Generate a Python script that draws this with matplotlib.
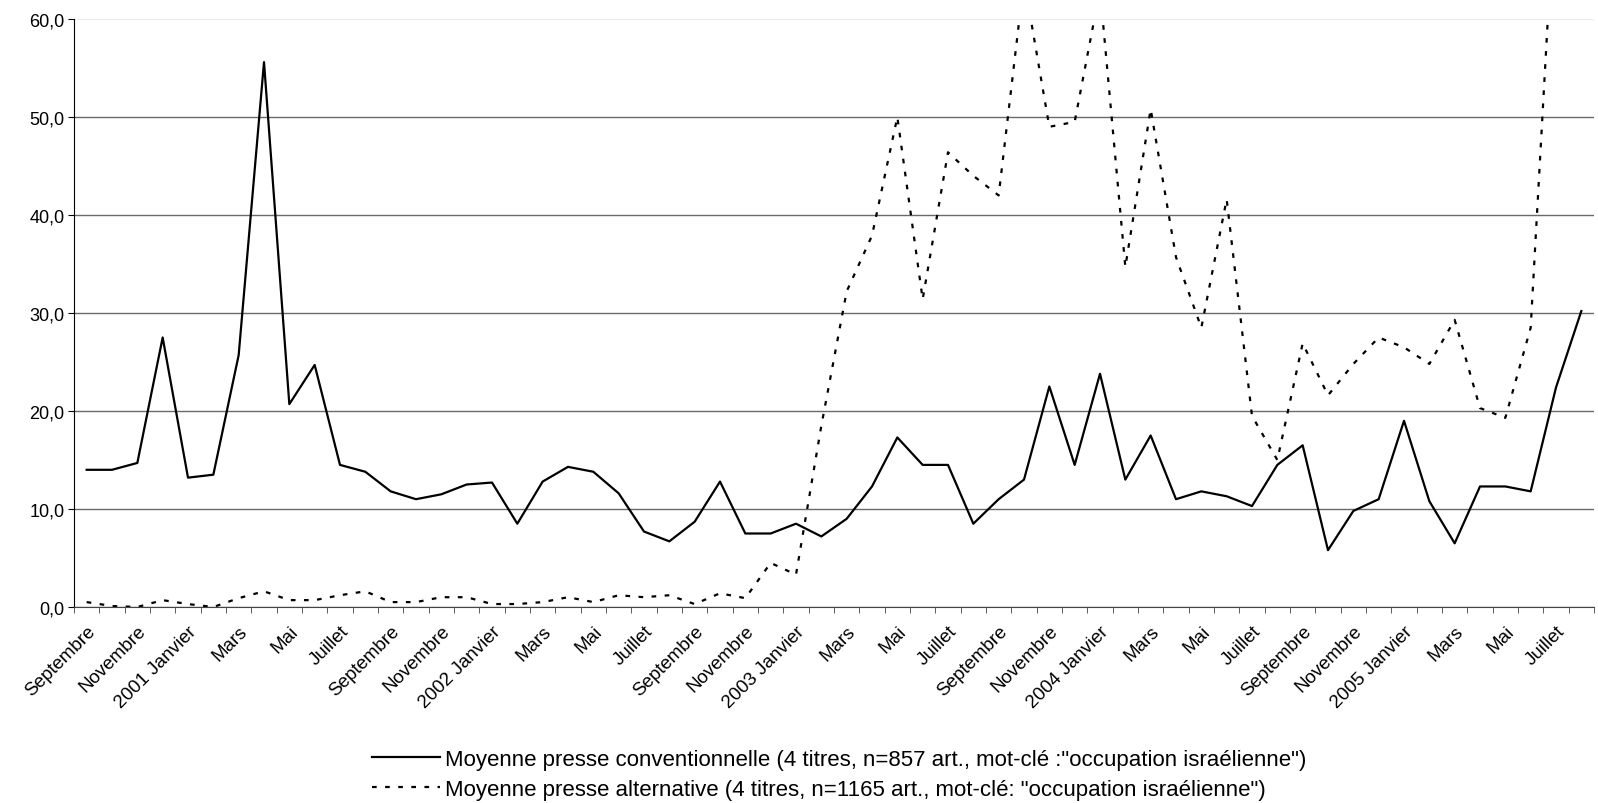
import numpy as np
import matplotlib
matplotlib.use("Agg")
import matplotlib.pyplot as plt

plt.rcParams['font.family'] = ['Liberation Sans', 'DejaVu Sans']

# mois de septembre 2000 a aout 2005, une etiquette sur deux
tick_labels = ["Septembre", "Novembre", "2001 Janvier", "Mars", "Mai", "Juillet",
               "Septembre", "Novembre", "2002 Janvier", "Mars", "Mai", "Juillet",
               "Septembre", "Novembre", "2003 Janvier", "Mars", "Mai", "Juillet",
               "Septembre", "Novembre", "2004 Janvier", "Mars", "Mai", "Juillet",
               "Septembre", "Novembre", "2005 Janvier", "Mars", "Mai", "Juillet"]

conventionnelle = [14.0, 14.0, 14.7, 27.5, 13.2, 13.5, 25.7, 55.6, 20.7, 24.7,
                   14.5, 13.8, 11.8, 11.0, 11.5, 12.5, 12.7, 8.5, 12.8, 14.3,
                   13.8, 11.6, 7.7, 6.7, 8.7, 12.8, 7.5, 7.5, 8.5, 7.2,
                   9.0, 12.3, 17.3, 14.5, 14.5, 8.5, 11.0, 13.0, 22.5, 14.5,
                   23.8, 13.0, 17.5, 11.0, 11.8, 11.3, 10.3, 14.5, 16.5, 5.8,
                   9.8, 11.0, 19.0, 10.8, 6.5, 12.3, 12.3, 11.8, 22.4, 30.2]

alternative = [0.5, 0.1, 0.0, 0.7, 0.3, 0.0, 0.9, 1.6, 0.7, 0.7,
               1.2, 1.6, 0.5, 0.5, 1.0, 1.0, 0.3, 0.3, 0.5, 1.0,
               0.5, 1.2, 1.0, 1.2, 0.3, 1.4, 0.9, 4.5, 3.3, 18.5,
               32.2, 37.9, 50.0, 31.4, 46.4, 44.0, 42.0, 64.0, 49.0, 49.5,
               63.0, 34.7, 50.8, 35.7, 28.5, 41.6, 19.5, 15.0, 26.9, 21.6,
               24.8, 27.5, 26.5, 24.8, 29.3, 20.3, 19.3, 28.5, 75.0, np.nan]

label_conv = 'Moyenne presse conventionnelle (4 titres, n=857 art., mot-clé :"occupation israélienne")'
label_alt = 'Moyenne presse alternative (4 titres, n=1165 art., mot-clé: "occupation israélienne")'

x = np.arange(len(conventionnelle))

fig = plt.figure(figsize=(15.98, 8.04), dpi=100)
ax = fig.add_axes([74/1598, 1-608/804, 1520/1598, 588/804])

ax.plot(x, conventionnelle, color="black", lw=1.6, label=label_conv)
ax.plot(x, alternative, color="black", lw=1.6, linestyle=(0, (2.1, 3.8)), label=label_alt)

ax.set_xlim(-0.5, len(x) - 0.5)
ax.set_ylim(0, 60)

yt = np.arange(0, 61, 10)
ax.set_yticks(yt)
ax.set_yticklabels([f"{v:.1f}".replace(".", ",") for v in yt], fontsize=13)
ax.yaxis.grid(True, color="#6a6a6a", lw=1)
ax.get_ygridlines()[-1].set_color("#eeeeee")
ax.set_axisbelow(True)

ax.set_xticks(x[::2])
ax.set_xticklabels(tick_labels, rotation=45, ha="right", va="top",
                   rotation_mode="anchor", fontsize=13.5)
ax.set_xticks(np.arange(-0.5, len(x), 1), minor=True)
ax.tick_params(axis="x", which="major", length=0, pad=11)
ax.tick_params(axis="x", which="minor", length=4, direction="out", color="#444444")
ax.tick_params(axis="y", length=4, direction="out", pad=3)

for s in ["top", "right"]:
    ax.spines[s].set_visible(False)
ax.spines["left"].set_color("black")
ax.spines["bottom"].set_color("#444444")

fig.legend(loc="upper left", bbox_to_anchor=(372/1598, 1-750/804), frameon=False,
           fontsize=16, handlelength=3.05, handletextpad=0.25, borderpad=0,
           borderaxespad=0, labelspacing=0.4)

fig.savefig("out.png", dpi=100)
